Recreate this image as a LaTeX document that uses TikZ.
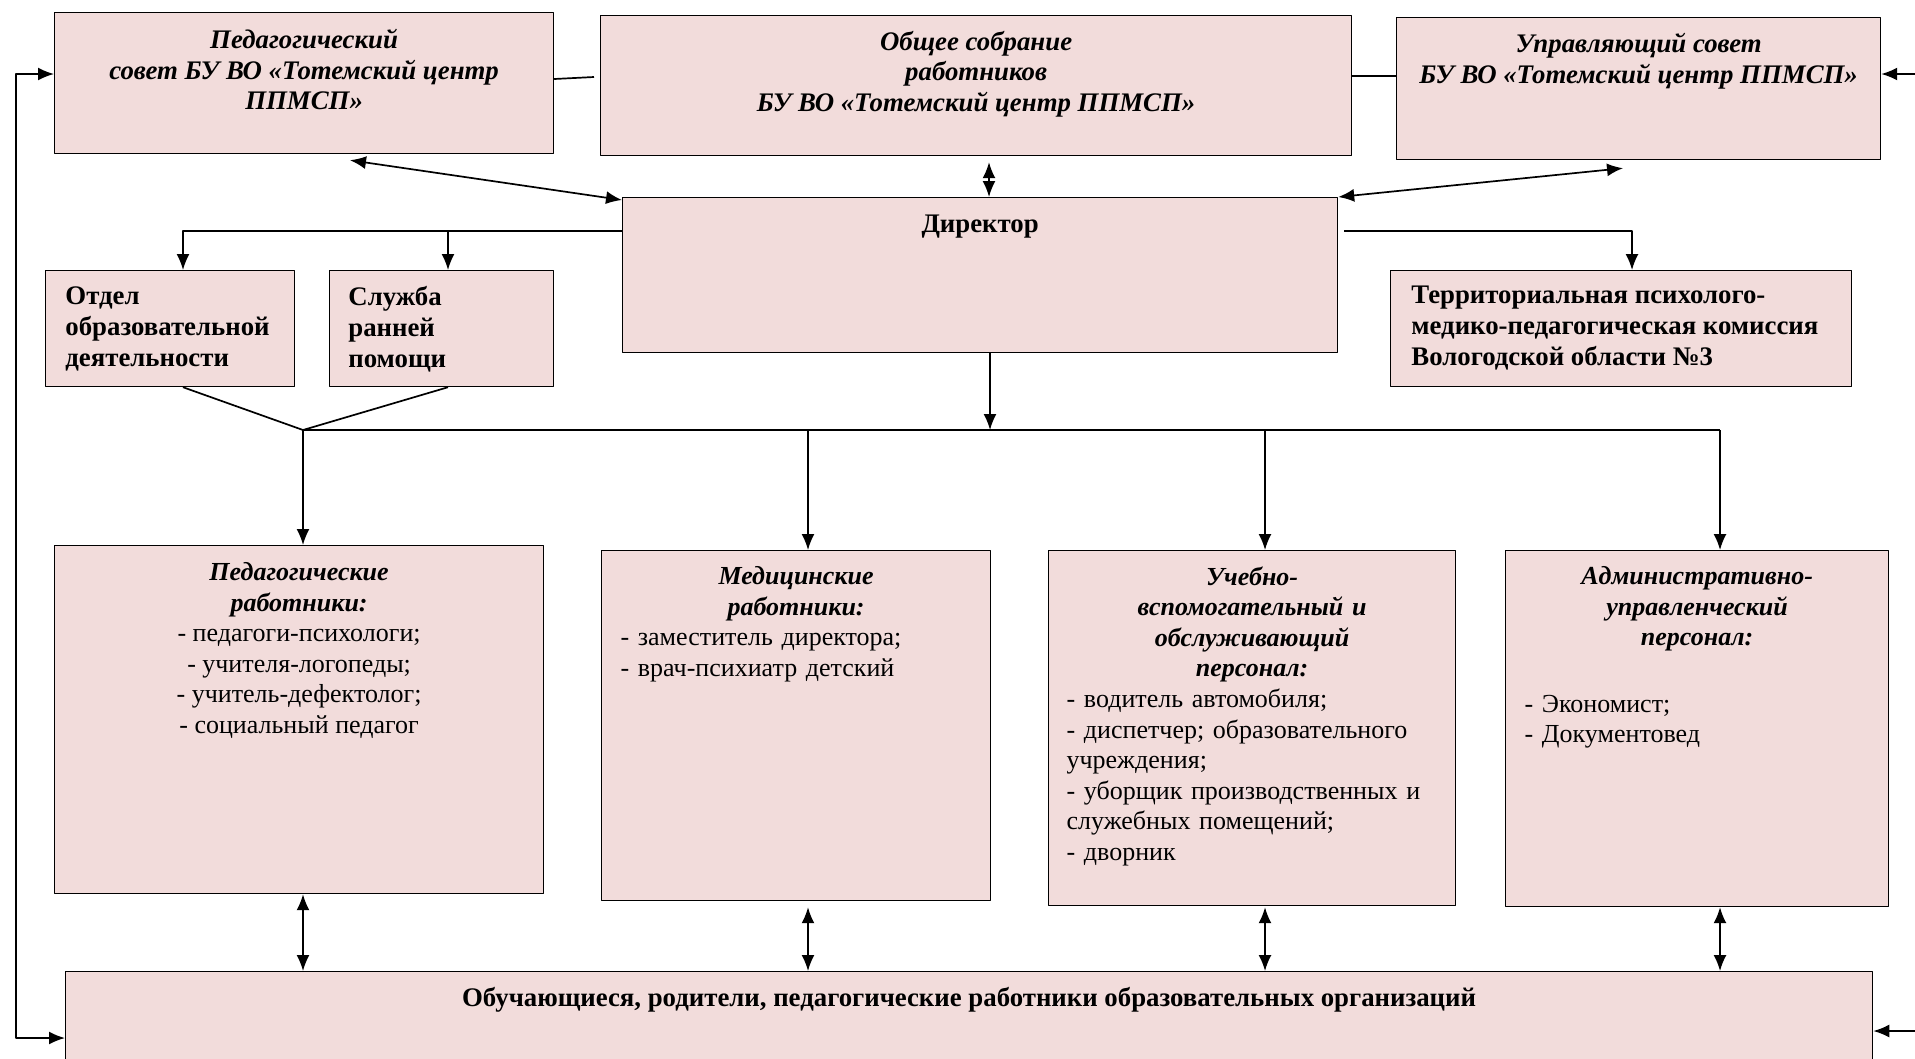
\documentclass[tikz,border=0pt]{standalone}
\usepackage{fontspec}
\setmainfont{Liberation Serif}
\usetikzlibrary{arrows.meta,positioning,calc}
\definecolor{boxfill}{RGB}{242,220,219}
\hyphenpenalty=10000
\exhyphenpenalty=10000

\begin{document}
\begin{tikzpicture}[>={Latex[length=8bp,width=6.5bp]},line join=bevel,x=0.5bp,y=-0.5bp,
  box/.style={draw=black,line width=0.6bp,fill=boxfill,inner sep=0pt,anchor=north west},
  ttl/.style={inner sep=0pt,align=center,font=\fontsize{13.4bp}{15.3bp}\selectfont\bfseries\itshape},
  lbl/.style={inner sep=0pt,align=left,font=\fontsize{13.4bp}{15.5bp}\selectfont\bfseries},
  lst/.style={inner sep=0pt,font=\fontsize{13bp}{15.3bp}\selectfont},
  link/.style={line width=0.85bp}]
\useasboundingbox (0,0) rectangle (1915,1058);
\clip (0,0) rectangle (1915,1058);
%%
  % Node: ped
  \node[box,minimum width=249.5bp,minimum height=70.5bp] (ped) at (54,12) {};
  \node[ttl,below=8.5bp of ped.north] (pedT) {Педагогический\\совет БУ ВО «Тотемский центр\\ППМСП»};
  % Node: obsh
  \node[box,minimum width=375.5bp,minimum height=70bp] (obsh) at (600,15) {};
  \node[ttl,below=7.8bp of obsh.north] (obshT) {Общее собрание\\работников\\БУ ВО «Тотемский центр ППМСП»};
  % Node: upr
  \node[box,minimum width=242bp,minimum height=71bp] (upr) at (1396,17) {};
  \node[ttl,below=8bp of upr.north] (uprT) {Управляющий совет\\БУ ВО «Тотемский центр ППМСП»};
  % Node: dir
  \node[box,minimum width=357.5bp,minimum height=77.5bp] (dir) at (622,197) {};
  \node[lbl,below=9bp of dir.north] (dirT) {Директор};
  % Node: otdel
  \node[box,minimum width=124.5bp,minimum height=58bp] (otdel) at (45,270) {};
  \node[lbl,below right=8bp and 10bp of otdel.north west] (otdelT) {Отдел\\образовательной\\деятельности};
  % Node: sluzh
  \node[box,minimum width=112bp,minimum height=58bp] (sluzh) at (329,270) {};
  \node[lbl,below right=8bp and 9.5bp of sluzh.north west] (sluzhT) {Служба\\ранней\\помощи};
  % Node: tpmpk
  \node[box,minimum width=230.5bp,minimum height=58bp] (tpmpk) at (1390,270) {};
  \node[lbl,below right=8bp and 10.5bp of tpmpk.north west] (tpmpkT) {Территориальная психолого-\\медико-педагогическая комиссия\\Вологодской области №3};
  % Node: pedrab
  \node[box,minimum width=244.5bp,minimum height=174bp] (pedrab) at (54,545) {};
  \node[lst,align=center,below=8.5bp of pedrab.north] (pedrabT) {\textbf{\textit{Педагогические}}\\\textbf{\textit{работники:}}\\- педагоги-психологи;\\- учителя-логопеды;\\- учитель-дефектолог;\\- социальный педагог};
  % Node: med
  \node[box,minimum width=194.5bp,minimum height=175bp] (med) at (601,550) {};
  \node[lst,align=left,text width=175.5bp,below=8bp of med.north] (medT) {{\centering\bfseries\itshape Медицинские\\работники:\par}- заместитель директора;\\- врач-психиатр детский};
  % Node: ucheb
  \node[box,minimum width=203.5bp,minimum height=177.5bp] (ucheb) at (1048,550) {};
  \node[lst,align=left,text width=185.5bp,below=8bp of ucheb.north] (uchebT) {{\centering\bfseries\itshape Учебно-\\вспомогательный и\\обслуживающий\\персонал:\par}- водитель автомобиля;\\- диспетчер; образовательного\\учреждения;\\- уборщик производственных и\\служебных помещений;\\- дворник};
  % Node: admin
  \node[box,minimum width=191.5bp,minimum height=178bp] (admin) at (1505,550) {};
  \node[lst,align=left,text width=172.5bp,below=8bp of admin.north] (adminT) {{\centering\bfseries\itshape Административно-\\управленческий\\персонал:\par}\vspace{18bp}- Экономист;\\- Документовед};
  % Node: bot
  \node[box,minimum width=903.5bp,minimum height=55bp] (bot) at (65,971) {};
  \node[lbl,below=8bp of bot.north] (botT) {Обучающиеся, родители, педагогические работники образовательных организаций};
%%
  \coordinate (railL) at (16,0);
  \coordinate (railR) at (1915,0);
  \coordinate (busL) at (303,430);
  \coordinate (busR) at (1720,430);
  \coordinate (pedIn) at ($(ped.north west)+(0,62)$);
  \coordinate (botInL) at ($(bot.north west)+(0,67)$);
  \coordinate (uprIn) at ($(upr.north east)+(0,57)$);
  \coordinate (botInR) at ($(bot.north east)+(0,60)$);
  \coordinate (dirL) at ($(dir.north west)+(0,34)$);
  \coordinate (dirR) at ($(dir.north east)+(6,34)$);
  \coordinate (dirOut) at ($(dir.south west)+(368,0)$);
  \coordinate (otdelIn) at ($(otdel.north west)+(138,0)$);
  \coordinate (sluzhIn) at ($(sluzh.north west)+(119,0)$);
  \coordinate (tpmpkIn) at ($(tpmpk.north west)+(242,0)$);
  \coordinate (medIn) at ($(med.north west)+(207,0)$);
  \coordinate (uchebIn) at ($(ucheb.north west)+(217,0)$);
  % Edge: rails -> ped, bot, upr
  \draw[link,<->] (pedIn) -- (pedIn -| railL) -- (botInL -| railL) -- (botInL);
  \draw[link,->] (uprIn -| railR) -- (uprIn);
  \draw[link,->] (botInR -| railR) -- (botInR);
  % Edge: ped -- obsh -- upr
  \draw[link] ($(ped.north east)+(0,67)$) -- ($(obsh.north west)+(-6,62)$);
  \draw[link] ($(obsh.north east)+(0,61)$) -- ($(upr.north west)+(0,59)$);
  % Edge: ped, obsh, upr <-> dir
  \draw[link,<->] ($(ped.south west)+(296,6)$) -- ($(dir.north west)+(0,3)$);
  \draw[link,<->] ($(obsh.south west)+(389,6)$) -- ($(dir.north west)+(367,0)$);
  \draw[link,<->] ($(upr.south west)+(227,8)$) -- (dir.north east);
  % Edge: dir -> otdel, sluzh, tpmpk
  \draw[link,->] (dirL) -| (otdelIn);
  \draw[link,->] (dirL -| sluzhIn) -- (sluzhIn);
  \draw[link,->] (dirR) -| (tpmpkIn);
  % Edge: dir -> bus
  \draw[link,->] (dirOut) -- (dirOut |- busL);
  \draw[link] (busL) -- (busR);
  \draw[link] (otdelIn |- otdel.south) -- (busL) -- (sluzhIn |- sluzh.south);
  % Edge: bus -> pedrab, med, ucheb, admin
  \draw[link,->] (busL) -- (busL |- pedrab.north);
  \draw[link,->] (medIn |- busL) -- (medIn);
  \draw[link,->] (uchebIn |- busL) -- (uchebIn);
  \draw[link,->] (busR) -- (busR |- admin.north);
  % Edge: staff <-> bot
  \draw[link,<->] (busL |- pedrab.south) -- (busL |- bot.north);
  \draw[link,<->] ($(medIn |- med.south)+(0,6)$) -- (medIn |- bot.north);
  \draw[link,<->] ($(uchebIn |- ucheb.south)+(0,1)$) -- (uchebIn |- bot.north);
  \draw[link,<->] (busR |- admin.south) -- (busR |- bot.north);
%
\end{tikzpicture}
\end{document}
